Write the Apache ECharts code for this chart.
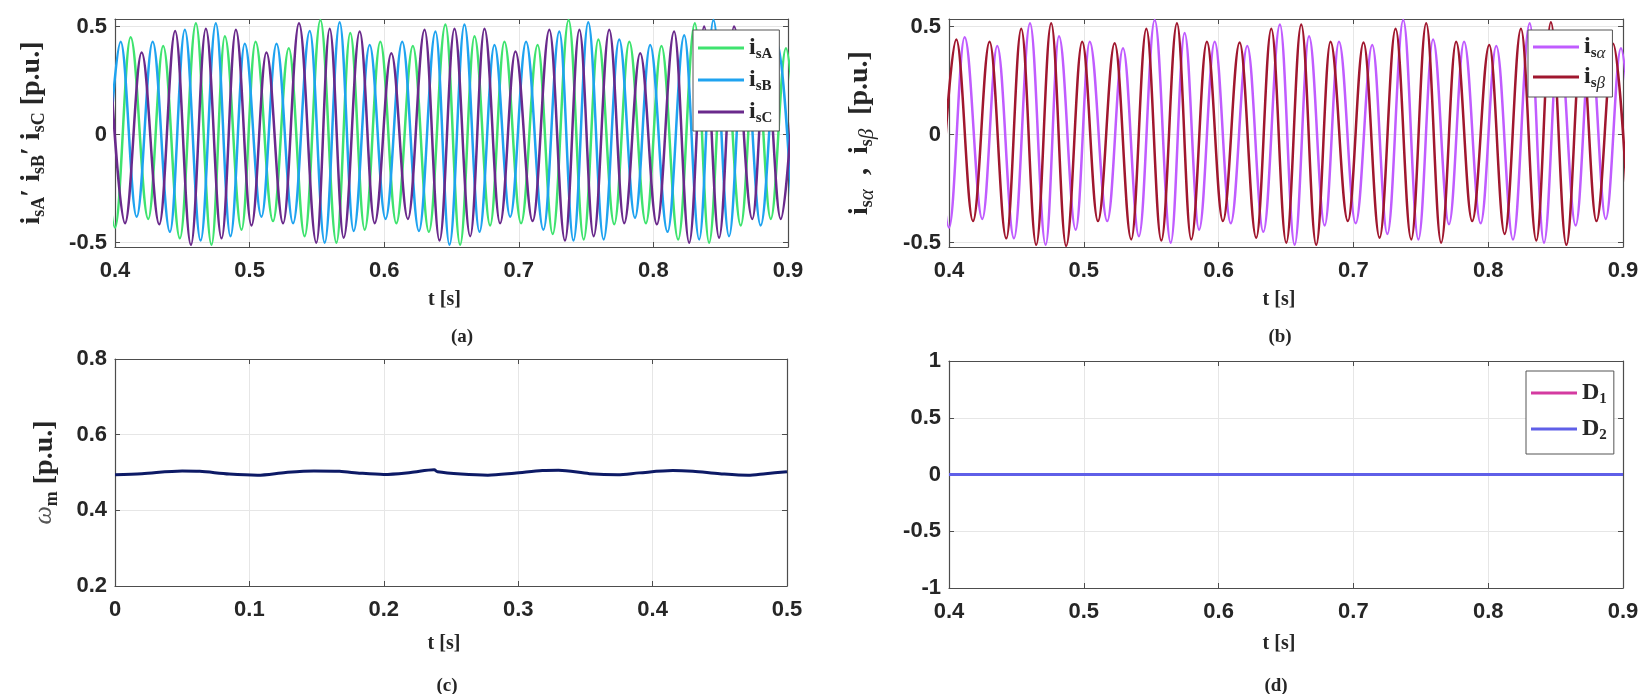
<!DOCTYPE html>
<html>
<head>
<meta charset="utf-8">
<title>Stator currents, speed and duty cycles</title>
<script src="https://cdn.jsdelivr.net/npm/echarts@6/dist/echarts.min.js"></script>
<style>
  html, body { margin: 0; padding: 0; background: #fff; }
  #chart { width: 1652px; height: 694px; }
</style>
</head>
<body>
<div id="chart"></div>
<script>
// phase currents, peaks and troughs: [t (s), i (p.u.)]
const iSA = [
  [0.388, 0.42], [0.400, -0.43], [0.4116, 0.45], [0.4247, -0.39], [0.4358, 0.41],
  [0.4482, -0.48], [0.4601, 0.515], [0.4717, -0.51], [0.4816, 0.455], [0.4940, -0.44],
  [0.5044, 0.43], [0.5174, -0.40], [0.5291, 0.40], [0.5409, -0.47], [0.5526, 0.53],
  [0.5645, -0.50], [0.5748, 0.47], [0.5855, -0.44], [0.5971, 0.43], [0.6090, -0.41],
  [0.6213, 0.41], [0.6332, -0.45], [0.6455, 0.51], [0.6564, -0.51], [0.6671, 0.455],
  [0.6787, -0.42], [0.6893, 0.43], [0.7017, -0.41], [0.7140, 0.415], [0.7252, -0.46],
  [0.7370, 0.53], [0.7482, -0.485], [0.7591, 0.44], [0.7709, -0.415], [0.7821, 0.43],
  [0.7944, -0.41], [0.8060, 0.41], [0.8184, -0.485], [0.8308, 0.515], [0.8414, -0.50],
  [0.8525, 0.47], [0.8649, -0.42], [0.8760, 0.43], [0.8872, -0.39], [0.8985, 0.40],
  [0.910, -0.44]
];
const iSB = [
  [0.3925, -0.40], [0.4042, 0.43], [0.4161, -0.38], [0.4280, 0.43], [0.4408, -0.45],
  [0.4519, 0.485], [0.4636, -0.49], [0.4749, 0.515], [0.4858, -0.47], [0.4964, 0.42],
  [0.5088, -0.38], [0.5200, 0.42], [0.5323, -0.41], [0.5447, 0.48], [0.5558, -0.50],
  [0.5669, 0.52], [0.5773, -0.446], [0.5892, 0.415], [0.6010, -0.39], [0.6134, 0.43],
  [0.6258, -0.446], [0.6381, 0.477], [0.6485, -0.51], [0.6596, 0.51], [0.6708, -0.45],
  [0.6819, 0.415], [0.6936, -0.38], [0.7054, 0.43], [0.7183, -0.44], [0.7301, 0.477],
  [0.7406, -0.49], [0.7516, 0.52], [0.7630, -0.485], [0.7746, 0.44], [0.7863, -0.385],
  [0.7976, 0.415], [0.8105, -0.45], [0.8229, 0.46], [0.8340, -0.485], [0.8446, 0.53],
  [0.8562, -0.47], [0.8674, 0.46], [0.8797, -0.42], [0.8921, 0.42], [0.9036, -0.42]
];
const iSC = [
  [0.3957, 0.40], [0.4074, -0.41], [0.4198, 0.38], [0.4329, -0.415], [0.4447, 0.48],
  [0.4564, -0.51], [0.4675, 0.49], [0.4792, -0.48], [0.4898, 0.485], [0.5014, -0.42],
  [0.5125, 0.38], [0.5249, -0.41], [0.5367, 0.515], [0.5496, -0.50], [0.5595, 0.49],
  [0.5699, -0.477], [0.5818, 0.477], [0.5929, -0.41], [0.6053, 0.377], [0.6176, -0.39],
  [0.6300, 0.485], [0.6411, -0.49], [0.6522, 0.49], [0.6639, -0.47], [0.6745, 0.49],
  [0.6861, -0.41], [0.6975, 0.385], [0.7103, -0.40], [0.7227, 0.485], [0.7343, -0.49],
  [0.7450, 0.485], [0.7556, -0.47], [0.7672, 0.485], [0.7783, -0.41], [0.7902, 0.377],
  [0.8026, -0.415], [0.8154, 0.477], [0.8266, -0.50], [0.8377, 0.50], [0.8488, -0.477],
  [0.8599, 0.50], [0.8735, -0.39], [0.8834, 0.38], [0.8946, -0.39], [0.906, 0.42]
];
// alpha trace in panel (b) is the same curve as phase A
const iSAlpha = iSA;
const iSBeta = [
  [0.3935, -0.40], [0.4054, 0.44], [0.4178, -0.40], [0.4301, 0.43], [0.4425, -0.48],
  [0.4536, 0.49], [0.4647, -0.51], [0.4758, 0.515], [0.4869, -0.515], [0.4988, 0.43],
  [0.5105, -0.40], [0.5229, 0.423], [0.5352, -0.485], [0.5464, 0.49], [0.5575, -0.49],
  [0.5691, 0.515], [0.5797, -0.485], [0.5913, 0.43], [0.6032, -0.40], [0.6156, 0.426],
  [0.6279, -0.477], [0.6391, 0.49], [0.6502, -0.50], [0.6613, 0.51], [0.6724, -0.51],
  [0.6830, 0.43], [0.6959, -0.40], [0.7075, 0.426], [0.7194, -0.477], [0.7313, 0.49],
  [0.7429, -0.485], [0.7540, 0.515], [0.7651, -0.50], [0.7762, 0.43], [0.7881, -0.40],
  [0.8008, 0.415], [0.8122, -0.46], [0.8243, 0.49], [0.8357, -0.49], [0.8465, 0.52],
  [0.8580, -0.51], [0.8692, 0.43], [0.8803, -0.40], [0.8927, 0.42], [0.9045, -0.45]
];
// rotor speed, panel (c)
const omegaM = [
  [0, 0.494], [0.02, 0.497], [0.05, 0.504], [0.063, 0.503], [0.085, 0.496], [0.106, 0.493],
  [0.127, 0.500], [0.148, 0.504], [0.167, 0.503], [0.183, 0.498], [0.2, 0.495], [0.22, 0.500],
  [0.2375, 0.507], [0.24, 0.502], [0.2574, 0.496], [0.2774, 0.493], [0.297, 0.498],
  [0.318, 0.505], [0.33, 0.506], [0.353, 0.497], [0.374, 0.494], [0.39, 0.499],
  [0.415, 0.505], [0.43, 0.503], [0.45, 0.497], [0.471, 0.493], [0.484, 0.497], [0.5, 0.502]
];
// duty cycles, panel (d)
const dutyD1 = [[0.4, 0], [0.9, 0]];
const dutyD2 = [[0.4, 0], [0.9, 0]];
const currentTicks = [-0.5, 0, 0.5];

const SANS = '"Liberation Sans", Arial, sans-serif';
const SERIF = '"Liberation Serif", "Times New Roman", serif';
const AXIS_COLOR = '#4d4d4d';
const TEXT_COLOR = '#262626';
const GRID_COLOR = '#e6e6e6';

const panels = [
  { left: 115, top: 19, width: 673, height: 228 },
  { left: 949, top: 19, width: 674, height: 228 },
  { left: 115, top: 359, width: 672, height: 227 },
  { left: 949, top: 361, width: 674, height: 227 }
];
const xRanges = [
  { min: 0.4, max: 0.9, nameGap: 43 },
  { min: 0.4, max: 0.9, nameGap: 43 },
  { min: 0, max: 0.5, nameGap: 48 },
  { min: 0.4, max: 0.9, nameGap: 46 }
];
const yRanges = [
  { min: -0.52, max: 0.535, ticks: currentTicks },
  { min: -0.52, max: 0.535, ticks: currentTicks },
  { min: 0.2, max: 0.8, interval: 0.2 },
  { min: -1, max: 1, interval: 0.5 }
];

// rich styles for the rotated axis titles
const nameRich = {
  m: { fontFamily: SERIF, fontWeight: 'bold', fontSize: 28, color: TEXT_COLOR },
  s: { fontFamily: SERIF, fontWeight: 'bold', fontSize: 18, color: TEXT_COLOR, padding: [15, 0, 0, 0] },
  g: { fontFamily: SERIF, fontStyle: 'italic', fontSize: 21, color: TEXT_COLOR, padding: [15, 0, 0, 0] },
  w: { fontFamily: SERIF, fontStyle: 'italic', fontSize: 26, color: '#555' }
};
// rich styles for the legend entries
const legendRich = {
  m: { fontFamily: SERIF, fontWeight: 'bold', fontSize: 24, color: TEXT_COLOR },
  s: { fontFamily: SERIF, fontWeight: 'bold', fontSize: 15, color: TEXT_COLOR, padding: [13, 0, 0, 0] },
  g: { fontFamily: SERIF, fontStyle: 'italic', fontSize: 17, color: TEXT_COLOR, padding: [13, 0, 0, 0] }
};
const yNames = [
  { text: '{m|i}{s|sA}{m|′ i}{s|sB}{m|′ i}{s|sC}{m| [p.u.]}', gap: 67 },
  { text: '{m|i}{s|s}{g|α}{m|  ,  i}{s|s}{g|β}{m|  [p.u.]}', gap: 71 },
  { text: '{w|ω}{s|m}{m| [p.u.]}', gap: 54 },
  null
];
const legendLabels = {
  isA: '{m|i}{s|sA}', isB: '{m|i}{s|sB}', isC: '{m|i}{s|sC}',
  isAlpha: '{m|i}{s|s}{g|α}', isBeta: '{m|i}{s|s}{g|β}',
  D1: '{m|D}{s|1}', D2: '{m|D}{s|2}'
};

function xAxisFor(i, mirror) {
  const r = xRanges[i];
  return {
    type: 'value', gridIndex: i, min: r.min, max: r.max, interval: 0.1,
    position: mirror ? 'top' : 'bottom',
    name: mirror ? '' : 't [s]', nameLocation: 'middle', nameGap: r.nameGap,
    nameTextStyle: { fontFamily: SERIF, fontWeight: 'bold', fontSize: 20, color: TEXT_COLOR, padding: [0, 14, 0, 0] },
    axisLine: { show: true, onZero: false, lineStyle: { color: AXIS_COLOR, width: 1.2 } },
    axisTick: { show: true, inside: true, length: 5, lineStyle: { color: AXIS_COLOR } },
    axisLabel: { show: !mirror, margin: 13, fontFamily: SANS, fontWeight: 'bold', fontSize: 22, color: TEXT_COLOR },
    splitLine: { show: !mirror, lineStyle: { color: GRID_COLOR, width: 1 } }
  };
}

function yAxisFor(i, mirror) {
  const r = yRanges[i];
  const axis = {
    type: 'value', gridIndex: i, min: r.min, max: r.max,
    position: mirror ? 'right' : 'left',
    axisLine: { show: true, onZero: false, lineStyle: { color: AXIS_COLOR, width: 1.2 } },
    axisTick: { show: true, inside: true, length: 5, lineStyle: { color: AXIS_COLOR } },
    axisLabel: { show: !mirror, margin: 8, fontFamily: SANS, fontWeight: 'bold', fontSize: 22, color: TEXT_COLOR },
    splitLine: { show: !mirror, lineStyle: { color: GRID_COLOR, width: 1 } }
  };
  if (r.interval) axis.interval = r.interval;
  if (r.ticks) {
    axis.axisTick.customValues = r.ticks;
    axis.axisLabel.customValues = r.ticks;
  }
  if (!mirror && yNames[i]) {
    axis.name = yNames[i].text;
    axis.nameLocation = 'middle';
    axis.nameRotate = 90;
    axis.nameGap = yNames[i].gap;
    axis.nameTextStyle = { rich: nameRich };
  }
  return axis;
}

function lineSeries(name, data, i, color, width, extra) {
  return Object.assign({
    name: name, type: 'line', xAxisIndex: i, yAxisIndex: i, data: data,
    symbol: 'none', showSymbol: false, clip: true,
    lineStyle: { color: color, width: width }, itemStyle: { color: color }
  }, extra || {});
}
const wave = { smooth: 0.37, smoothMonotone: 'x' };

function legendFor(names, left, top, gap, padding) {
  return {
    data: names, left: left, top: top, orient: 'vertical',
    icon: 'rect', itemWidth: 46, itemHeight: 3, itemGap: gap,
    padding: padding, backgroundColor: '#fff',
    borderColor: '#555', borderWidth: 1, selectedMode: false,
    formatter: name => legendLabels[name],
    textStyle: { rich: legendRich }
  };
}

function panelLabel(text, x, y) {
  return {
    type: 'text', x: x, y: y,
    style: {
      text: text, fill: TEXT_COLOR, font: 'bold 19px ' + SERIF,
      align: 'center', verticalAlign: 'middle', textAlign: 'center', textVerticalAlign: 'middle'
    }
  };
}

const chart = echarts.init(document.getElementById('chart'), null, { renderer: 'canvas' });
chart.setOption({
  animation: false,
  backgroundColor: '#fff',
  grid: panels,
  xAxis: [0, 1, 2, 3].map(i => xAxisFor(i, false)).concat([0, 1, 2, 3].map(i => xAxisFor(i, true))),
  yAxis: [0, 1, 2, 3].map(i => yAxisFor(i, false)).concat([0, 1, 2, 3].map(i => yAxisFor(i, true))),
  legend: [
    legendFor(['isA', 'isB', 'isC'], 693, 30, 6, [6, 7, 5, 5]),
    legendFor(['isAlpha', 'isBeta'], 1528, 30, 3, [5, 7, 5, 5]),
    legendFor(['D1', 'D2'], 1526, 371, 10, [10, 7, 11, 5])
  ],
  graphic: [
    panelLabel('(a)', 462, 337),
    panelLabel('(b)', 1280, 337),
    panelLabel('(c)', 447, 686),
    panelLabel('(d)', 1276, 686)
  ],
  series: [
    lineSeries('isA', iSA, 0, '#3fe36f', 2.5, wave),
    lineSeries('isB', iSB, 0, '#1fa3f0', 2.5, wave),
    lineSeries('isC', iSC, 0, '#6a2a8c', 2.5, wave),
    lineSeries('isAlpha', iSAlpha, 1, '#c05cff', 2.5, wave),
    lineSeries('isBeta', iSBeta, 1, '#a0172e', 2.5, wave),
    lineSeries('omegaM', omegaM, 2, '#0d1a66', 3, { smooth: 0.3 }),
    lineSeries('D1', dutyD1, 3, '#d43aa0', 3),
    lineSeries('D2', dutyD2, 3, '#5f5fe8', 3)
  ]
});
</script>
</body>
</html>
